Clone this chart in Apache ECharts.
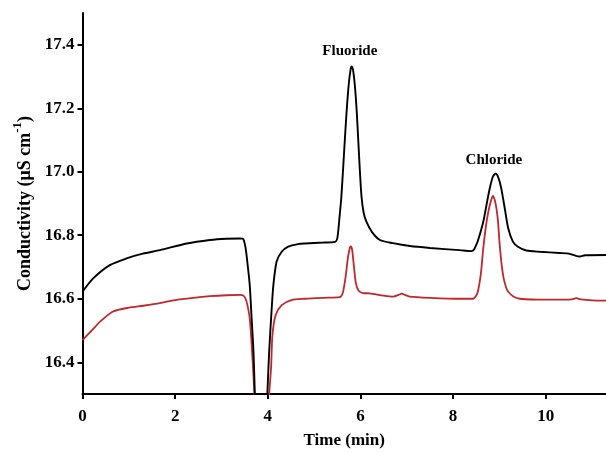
<!DOCTYPE html>
<html>
<head>
<meta charset="utf-8">
<script src="https://cdn.jsdelivr.net/npm/echarts@6/dist/echarts.min.js"></script>
<style>html,body{margin:0;padding:0;background:#fff}#c{width:606px;height:454px}</style>
</head>
<body>
<div id="c"></div>
<script>
var xTicks = [0, 2, 4, 6, 8, 10];
var yTicks = [16.4, 16.6, 16.8, 17.0, 17.2, 17.4];

var timeBlack = [0, 0.23, 0.59, 0.95, 1.30, 1.67, 2.25, 2.75, 3.10, 3.40, 3.47, 3.52, 3.57, 3.61, 3.65, 3.69, 3.72, 3.76, 3.94, 3.99, 4.03, 4.08, 4.12, 4.19, 4.30, 4.44, 4.65, 4.80, 5.20, 5.45, 5.50, 5.55, 5.59, 5.65, 5.70, 5.75, 5.79, 5.81, 5.84, 5.88, 5.92, 5.97, 6.02, 6.07, 6.13, 6.25, 6.42, 6.70, 7.07, 7.50, 8.14, 8.38, 8.45, 8.50, 8.54, 8.65, 8.72, 8.79, 8.86, 8.92, 8.98, 9.04, 9.12, 9.19, 9.29, 9.40, 9.58, 9.87, 10.3, 10.5, 10.65, 10.73, 10.85, 11.3];
var condBlack = [16.622, 16.664, 16.706, 16.727, 16.742, 16.753, 16.774, 16.785, 16.789, 16.790, 16.788, 16.76, 16.70, 16.643, 16.54, 16.435, 16.30, 16.10, 16.10, 16.30, 16.435, 16.56, 16.643, 16.717, 16.748, 16.764, 16.772, 16.774, 16.777, 16.779, 16.79, 16.86, 16.926, 17.07, 17.188, 17.28, 17.325, 17.332, 17.32, 17.27, 17.188, 17.05, 16.926, 16.87, 16.842, 16.81, 16.785, 16.775, 16.766, 16.76, 16.753, 16.750, 16.755, 16.77, 16.785, 16.842, 16.895, 16.947, 16.985, 16.994, 16.98, 16.947, 16.88, 16.821, 16.78, 16.764, 16.752, 16.748, 16.744, 16.742, 16.735, 16.733, 16.737, 16.738];

var timeRed = [0, 0.20, 0.38, 0.66, 1.00, 1.31, 1.67, 2.00, 2.39, 2.75, 3.11, 3.40, 3.47, 3.52, 3.56, 3.61, 3.66, 3.71, 3.75, 3.98, 4.03, 4.07, 4.10, 4.17, 4.30, 4.51, 4.80, 5.20, 5.55, 5.62, 5.68, 5.73, 5.77, 5.79, 5.82, 5.86, 5.90, 5.96, 6.05, 6.20, 6.50, 6.71, 6.82, 6.89, 6.96, 7.06, 7.50, 8.14, 8.43, 8.50, 8.54, 8.60, 8.65, 8.71, 8.76, 8.82, 8.86, 8.90, 8.94, 8.97, 9.00, 9.04, 9.09, 9.15, 9.19, 9.30, 9.44, 10.0, 10.3, 10.55, 10.66, 10.76, 11.0, 11.3];
var condRed = [16.47, 16.50, 16.528, 16.56, 16.572, 16.578, 16.586, 16.596, 16.603, 16.608, 16.611, 16.612, 16.610, 16.60, 16.58, 16.538, 16.435, 16.30, 16.10, 16.10, 16.30, 16.381, 16.486, 16.549, 16.58, 16.596, 16.600, 16.603, 16.605, 16.62, 16.67, 16.73, 16.76, 16.765, 16.755, 16.70, 16.65, 16.625, 16.618, 16.617, 16.61, 16.607, 16.612, 16.616, 16.612, 16.607, 16.603, 16.600, 16.600, 16.61, 16.626, 16.68, 16.758, 16.83, 16.874, 16.91, 16.924, 16.91, 16.88, 16.842, 16.78, 16.717, 16.665, 16.633, 16.622, 16.607, 16.600, 16.597, 16.597, 16.598, 16.602, 16.598, 16.595, 16.594];

var peakNames = ['Fluoride', 'Chloride'];
var peakLabelTime = [5.77, 8.88];
var peakLabelCond = [17.381, 17.038];

function zip(a, b) { return a.map(function (v, i) { return [v, b[i]]; }); }

var FONT = 'Liberation Serif';
var chart = echarts.init(document.getElementById('c'));
chart.setOption({
  animation: false,
  grid: { left: 82.5, right: 0, top: 13, bottom: 57 },
  xAxis: {
    type: 'value', min: 0, max: 11.3, interval: 2,
    splitLine: { show: false },
    axisLine: { onZero: false, lineStyle: { color: '#000', width: 2 } },
    axisTick: { length: 5, lineStyle: { color: '#000', width: 2 }, customValues: xTicks },
    axisLabel: { customValues: xTicks, color: '#000', fontFamily: FONT, fontWeight: 'bold', fontSize: 17, margin: 14 },
    name: 'Time (min)', nameLocation: 'middle', nameGap: 38,
    nameTextStyle: { color: '#000', fontFamily: FONT, fontWeight: 'bold', fontSize: 17 }
  },
  yAxis: {
    type: 'value', min: 16.3, max: 17.5, interval: 0.1,
    splitLine: { show: false },
    axisLine: { onZero: false, lineStyle: { color: '#000', width: 2 } },
    axisTick: { length: 5, lineStyle: { color: '#000', width: 2 }, customValues: yTicks },
    axisLabel: { customValues: yTicks, color: '#000', fontFamily: FONT, fontWeight: 'bold', fontSize: 17, margin: 8,
      formatter: function (v) { return v.toFixed(1); } },
    name: '{a|Conductivity (μS cm}{s|-1}{a|)}', nameLocation: 'middle', nameGap: 47,
    nameTextStyle: {
      color: '#000',
      rich: {
        a: { fontFamily: FONT, fontWeight: 'bold', fontSize: 18, color: '#000', lineHeight: 23, verticalAlign: 'bottom' },
        s: { fontFamily: FONT, fontWeight: 'bold', fontSize: 13, color: '#000', lineHeight: 13, verticalAlign: 'top' }
      }
    }
  },
  series: [
    {
      type: 'line', data: zip(timeRed, condRed), showSymbol: false, symbol: 'none', clip: true,
      smooth: 0.25,
      lineStyle: { color: '#c1272d', width: 1.8 }, z: 2
    },
    {
      type: 'line', data: zip(timeBlack, condBlack), showSymbol: false, symbol: 'none', clip: true,
      smooth: 0.25,
      lineStyle: { color: '#000', width: 1.9 }, z: 3,
      markPoint: {
        symbol: 'rect', symbolSize: 1, itemStyle: { color: 'rgba(0,0,0,0)' },
        label: { show: true, position: 'inside', color: '#000', fontFamily: FONT, fontWeight: 'bold', fontSize: 15,
          formatter: function (p) { return p.name; } },
        data: peakNames.map(function (n, i) { return { name: n, coord: [peakLabelTime[i], peakLabelCond[i]] }; })
      }
    }
  ]
});
</script>
</body>
</html>
